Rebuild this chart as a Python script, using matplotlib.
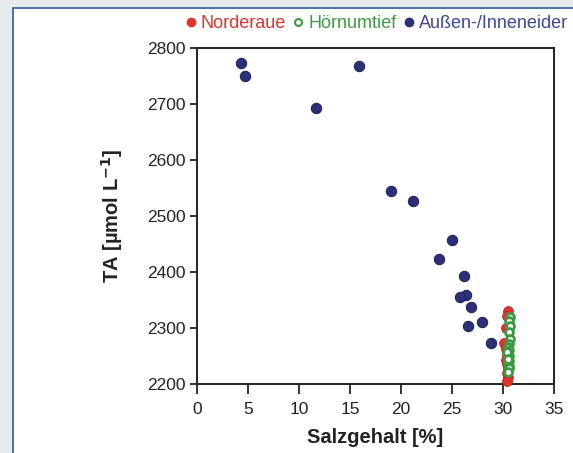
import matplotlib.pyplot as plt
from matplotlib.lines import Line2D
from matplotlib.patches import Rectangle

plt.rcParams['font.family'] = ['Liberation Sans', 'DejaVu Sans']

# Norderaue (red, filled)
norderaue_sal = [30.5, 30.4, 30.3, 30.1, 30.3, 30.4, 30.3, 30.4, 30.5, 30.4, 30.5, 30.4]
norderaue_ta = [2330, 2322, 2300, 2274, 2262, 2252, 2243, 2236, 2228, 2220, 2212, 2205]

# Hörnumtief (green, open)
hoernum_sal = [30.7, 30.6, 30.7, 30.6, 30.7, 30.6, 30.5, 30.6, 30.5, 30.6, 30.5, 30.6,
               30.5, 30.6, 30.4, 30.5, 30.6, 30.5]
hoernum_ta = [2319, 2312, 2304, 2292, 2280, 2272, 2266, 2260, 2255, 2250, 2246, 2241,
              2237, 2233, 2258, 2244, 2228, 2222]

# Außen-/Inneneider (navy, filled)
eider_sal = [4.3, 4.7, 15.9, 11.7, 19.0, 21.2, 25.0, 23.7, 26.2, 26.4, 25.8, 26.9,
             26.6, 27.9, 28.8]
eider_ta = [2773, 2750, 2768, 2692, 2545, 2527, 2457, 2423, 2392, 2359, 2355, 2338,
            2304, 2311, 2274]

red = '#e3312c'
green = '#3b9a3f'
navy = '#2d3076'

fig = plt.figure(figsize=(5.73, 4.53), dpi=100)
fig.patch.set_facecolor('#e5eaea')
# white panel with blue border
panel = Rectangle((13 / 573, -0.1), 1.0, 1 - 8 / 453 + 0.1, transform=fig.transFigure,
                  facecolor='white', edgecolor='#2a5a9a', linewidth=1.2, zorder=-1)
fig.patches.append(panel)

ax = fig.add_axes([197 / 573, 1 - 384 / 453, (554 - 197) / 573, (384 - 48) / 453])
ax.set_facecolor('white')

ax.scatter(eider_sal, eider_ta, s=55, color=navy, edgecolor='#23255e', linewidth=0.8,
           zorder=3, clip_on=False)
ax.scatter(norderaue_sal, norderaue_ta, s=50, color=red, edgecolor='#b82a25', linewidth=0.6,
           zorder=3, clip_on=False)
ax.scatter(hoernum_sal, hoernum_ta, s=32, facecolor='white', edgecolor=green, linewidth=2.0,
           zorder=4, clip_on=False)

ax.set_xlim(0, 35)
ax.set_ylim(2200, 2800)
ax.set_xticks(range(0, 36, 5))
ax.set_yticks(range(2200, 2801, 100))
ax.tick_params(direction='out', width=1.3, labelsize=12.5, colors='#222222',
               top=False, right=False)
ax.tick_params(axis='x', length=7, pad=6)
ax.tick_params(axis='y', length=5, pad=3)
for sp in ax.spines.values():
    sp.set_linewidth(1.4)
    sp.set_color('#222222')

ax.set_xlabel('Salzgehalt [%]', fontsize=14.5, fontweight='bold', color='#222222', labelpad=8)
ax.set_ylabel('TA [µmol L$^{\\mathbf{-1}}$]', fontsize=14.5, fontweight='bold', color='#222222',
              labelpad=16)

handles = [
    Line2D([], [], marker='o', linestyle='', markersize=6, color=red),
    Line2D([], [], marker='o', linestyle='', markersize=5, markerfacecolor='white',
           markeredgecolor=green, markeredgewidth=1.5),
    Line2D([], [], marker='o', linestyle='', markersize=6, color=navy),
]
labels = ['Norderaue', 'Hörnumtief', 'Außen-/Inneneider']
fig.legend(handles, labels, loc='center left', bbox_to_anchor=(177 / 573, 1 - 24 / 453),
           ncol=3, frameon=False, fontsize=13, handlelength=0.5, handletextpad=0.3,
           columnspacing=0.45, borderpad=0, labelcolor=[red, green, '#3d4796'])

fig.savefig('out.png', dpi=100, facecolor=fig.get_facecolor())
